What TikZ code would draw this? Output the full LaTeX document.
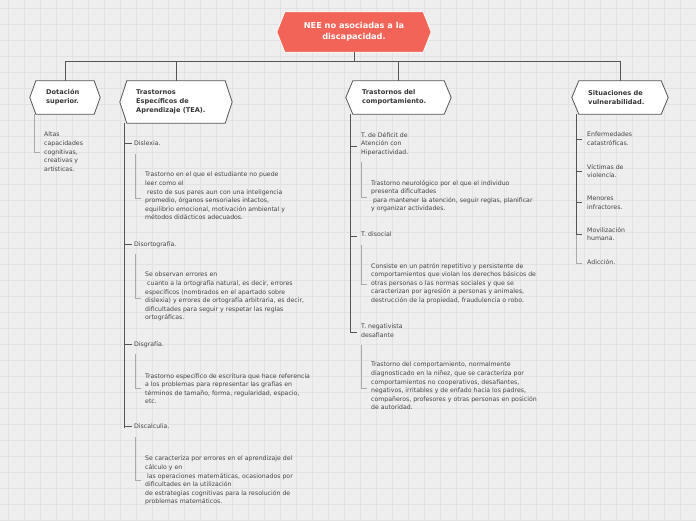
\documentclass[tikz,border=0pt]{standalone}
\usepackage{fontspec}
\setmainfont{DejaVu Sans}
\usetikzlibrary{calc}
\definecolor{bg}{HTML}{EEEEEE}
\definecolor{gridc}{HTML}{E2E2E2}
\definecolor{rootc}{HTML}{F26457}
\definecolor{linec}{HTML}{555555}
\definecolor{subc}{HTML}{AAAAAA}
\definecolor{txt}{HTML}{444444}
\tikzset{
  x=1pt,y=-1pt,
  hexbox/.style={inner sep=0pt, align=left, font=\fontsize{6.6}{9}\selectfont\bfseries, text=txt!80!black},
  desc/.style={anchor=north west, inner sep=0pt, align=left, font=\fontsize{6.2}{8.6}\selectfont, text=txt},
  mainline/.style={draw=linec, line width=0.8pt},
  subline/.style={draw=subc, line width=0.8pt},
}
\newcommand{\hexdraw}[4]{% name, fill, draw, dx
  \draw[fill=#2, draw=#3, line width=0.8pt] ($(#1.north west)+(#4,0)$) -- ($(#1.north east)-(#4,0)$) -- (#1.east) -- ($(#1.south east)-(#4,0)$) -- ($(#1.south west)+(#4,0)$) -- (#1.west) -- cycle;}
\begin{document}
\begin{tikzpicture}
\useasboundingbox (0,0) rectangle (696,520);
\fill[bg] (0,0) rectangle (696,520);
\foreach \i in {8,24,...,696} \draw[gridc, line width=0.5pt] (\i,0) -- (\i,520);
\foreach \i in {8,24,...,520} \draw[gridc, line width=0.5pt] (0,\i) -- (696,\i);

% hex nodes
\node[minimum width=154, minimum height=40, inner sep=0pt] (root) at (354,32) {};
\hexdraw{root}{rootc}{white}{8}
\node[align=center, font=\fontsize{8.2}{11}\selectfont\bfseries, text=white] at (root) {NEE no asociadas a la\\discapacidad.};

\node[minimum width=70, minimum height=33, inner sep=0pt] (dot) at (65,97.5) {};
\hexdraw{dot}{white}{linec}{6}
\node[hexbox, anchor=west] at (46,97.5) {Dotación\\superior.};

\node[minimum width=112, minimum height=42, inner sep=0pt] (tea) at (176,102) {};
\hexdraw{tea}{white}{linec}{7}
\node[hexbox, anchor=west] at (136,102) {Trastornos\\Específicos de\\Aprendizaje (TEA).};

\node[minimum width=105, minimum height=33, inner sep=0pt] (tc) at (398.5,97.5) {};
\hexdraw{tc}{white}{linec}{7}
\node[hexbox, anchor=west] at (362,97.5) {Trastornos del\\comportamiento.};

\node[minimum width=96, minimum height=33, inner sep=0pt] (sv) at (620,97.5) {};
\hexdraw{sv}{white}{linec}{7}
\node[hexbox, anchor=west] at (588,97.5) {Situaciones de\\vulnerabilidad.};

% top connectors
\coordinate (bus) at (354,61);
\draw[mainline] (root.south) -- (bus);
\draw[mainline] (65,61) -- (620,61);
\draw[mainline] (dot.north) -- (65,61);
\draw[mainline] (sv.north) -- (620,61);
\draw[mainline] (tea.north) -- (176,61);
\draw[mainline] (tc.north) -- (398.5,61);

% Dotación
\node[desc] (alt) at (44,132) {Altas\\capacidades\\cognitivas,\\creativas y\\artísticas.};
\draw[subline] (34,114) -- (34,152) -- (40,152);

% TEA
\node[desc] (dis) at (134,141) {Dislexia.};
\node[desc] (dor) at (134,241) {Disortografía.};
\node[desc] (dgr) at (134,341) {Disgrafía.};
\node[desc] (dca) at (134,424) {Discalculia.};
\draw[mainline] (124,123) -- (124,428);
\foreach \n in {dis,dor,dgr,dca} \draw[mainline] ($(\n.west)+(-2,0)$) -- ++(-8,0);

\node[desc] at (145,172) {Trastorno en el que el estudiante no puede\\leer como el\\ \ resto de sus pares aun con una inteligencia\\promedio, órganos sensoriales intactos,\\equilibrio emocional, motivación ambiental y\\métodos didácticos adecuados.};
\draw[subline] (135,154) -- (135,198) -- (141,198);
\node[desc] at (145,272) {Se observan errores en\\ \ cuanto a la ortografía natural, es decir, errores\\específicos (nombrados en el apartado sobre\\dislexia) y errores de ortografía arbitraria, es decir,\\dificultades para seguir y respetar las reglas\\ortográficas.};
\draw[subline] (135,254) -- (135,298) -- (141,298);
\node[desc] at (145,373) {Trastorno específico de escritura que hace referencia\\a los problemas para representar las grafías en\\términos de tamaño, forma, regularidad, espacio,\\etc.};
\draw[subline] (135,354) -- (135,388) -- (141,388);
\node[desc] at (145,456) {Se caracteriza por errores en el aprendizaje del\\cálculo y en\\ \ las operaciones matemáticas, ocasionados por\\dificultades en la utilización\\de estrategias cognitivas para la resolución de\\problemas matemáticos.};
\draw[subline] (135,437) -- (135,480) -- (141,480);

% Comportamiento
\node[desc] (tda) at (361,132) {T. de Déficit de\\Atención con\\Hiperactividad.};
\node[desc] (tdi) at (361,232) {T. disocial};
\node[desc] (tne) at (361,324) {T. negativista\\desafiante};
\draw[mainline] (350,114) -- (350,332);
\draw[mainline] (350,146) -- (357,146);
\draw[mainline] (350,236) -- (357,236);
\draw[mainline] (350,332) -- (357,332);
\node[desc] at (371,180) {Trastorno neurológico por el que el individuo\\presenta dificultades\\ \ para mantener la atención, seguir reglas, planificar\\y organizar actividades.};
\draw[subline] (361,162) -- (361,197) -- (367,197);
\node[desc] at (371,263) {Consiste en un patrón repetitivo y persistente de\\comportamientos que violan los derechos básicos de\\otras personas o las normas sociales y que se\\caracterizan por agresión a personas y animales,\\destrucción de la propiedad, fraudulencia o robo.};
\draw[subline] (361,245) -- (361,284) -- (367,284);
\node[desc] at (371,362) {Trastorno del comportamiento, normalmente\\diagnosticado en la niñez, que se caracteriza por\\comportamientos no cooperativos, desafiantes,\\negativos, irritables y de enfado hacia los padres,\\compañeros, profesores y otras personas en posición\\de autoridad.};
\draw[subline] (361,345) -- (361,388) -- (367,388);

% Situaciones
\node[desc] (s1) at (587,132) {Enfermedades\\catastróficas.};
\node[desc] (s2) at (587,164) {Víctimas de\\violencia.};
\node[desc] (s3) at (587,196) {Menores\\infractores.};
\node[desc] (s4) at (587,227) {Movilización\\humana.};
\node[desc] (s5) at (587,259) {Adicción.};
\draw[mainline] (576,114) -- (576,235);
\draw[subline] (576,235) -- (576,263) -- (582,263);
\foreach \n in {s1,s2,s3,s4} \draw[mainline] ($(\n.west)+(-5,0)$) -- ++(-6,0);
\end{tikzpicture}
\end{document}
